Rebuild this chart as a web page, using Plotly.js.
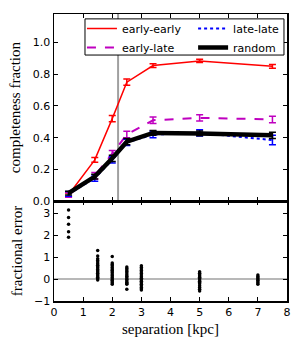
<!DOCTYPE html>
<html><head><meta charset="utf-8">
<script src="https://cdn.plot.ly/plotly-3.0.1.min.js"></script>
<style>html,body{margin:0;padding:0;background:#fff}#c{width:300px;height:350px}</style>
</head><body><div id="c"></div>
<script>
// Top panel: completeness fraction vs separation
const sepTop = [0.5, 1.4, 2.0, 2.5, 3.4, 5.0, 7.5];
const earlyEarly = [0.04, 0.26, 0.52, 0.75, 0.855, 0.884, 0.85];
const earlyEarlyErr = [0.012, 0.015, 0.02, 0.02, 0.012, 0.01, 0.012];
const earlyLate = [0.04, 0.16, 0.30, 0.42, 0.51, 0.525, 0.515];
const earlyLateErr = [0.015, 0.02, 0.02, 0.02, 0.02, 0.02, 0.02];
const lateLate = [0.045, 0.145, 0.26, 0.37, 0.42, 0.43, 0.385];
const lateLateErr = [0.015, 0.02, 0.02, 0.02, 0.02, 0.02, 0.03];
const randomSel = [0.05, 0.155, 0.27, 0.375, 0.43, 0.427, 0.415];
const randomErr = [0.012, 0.015, 0.02, 0.02, 0.015, 0.015, 0.02];
const boundary = 2.2;

// Bottom panel: fractional error per separation
const errSeps = [0.5, 1.5, 2.0, 2.5, 3.0, 5.0, 7.0];
const err05 = [3.15, 2.8, 2.5, 2.15, 1.9];
const err15 = [1.3, 1.05, 0.93, 0.85, 0.78, 0.7, 0.63, 0.56, 0.5, 0.44, 0.38, 0.32, 0.26, 0.2, 0.14, 0.08, 0.02, -0.04];
const err20 = [1.03, 0.73, 0.66, 0.6, 0.53, 0.46, 0.4, 0.33, 0.27, 0.2, 0.14, 0.07, 0.0, -0.06, -0.12, -0.18, -0.24];
const err25 = [0.55, 0.48, 0.41, 0.34, 0.27, 0.2, 0.13, 0.06, -0.01, -0.08, -0.15, -0.2, -0.24, -0.46];
const err30 = [0.6, 0.53, 0.46, 0.39, 0.32, 0.25, 0.18, 0.11, 0.04, -0.03, -0.1, -0.17, -0.24, -0.31, -0.38, -0.44, -0.5];
const err50 = [0.33, 0.26, 0.2, 0.14, 0.08, 0.02, -0.04, -0.1, -0.16, -0.22, -0.3, -0.38, -0.46, -0.55];
const err70 = [0.18, 0.12, 0.06, 0.0, -0.06, -0.12, -0.18, -0.24];
const errGroups = [err05, err15, err20, err25, err30, err50, err70];

const ex = [], ey = [];
errGroups.forEach((g, i) => g.forEach(v => { ex.push(errSeps[i]); ey.push(v); }));

function series(name, y, e, color, width, dash, legendId) {
  return {
    type: 'scatter', mode: 'lines', name: name, x: sepTop, y: y,
    xaxis: 'x2', yaxis: 'y2', legend: legendId,
    line: {color: color, width: width, dash: dash},
    error_y: {type: 'data', array: e, visible: true, color: color, thickness: 1.5, width: 3.5}
  };
}

const traces = [
  series('early-early', earlyEarly, earlyEarlyErr, '#ff0000', 1.5, 'solid', 'legend'),
  series('early-late', earlyLate, earlyLateErr, '#bf00bf', 2, 'dash', 'legend'),
  series('late-late', lateLate, lateLateErr, '#0000ff', 2, 'dot', 'legend2'),
  series('random', randomSel, randomErr, '#000000', 4.5, 'solid', 'legend2'),
  {type: 'scatter', mode: 'markers', x: ex, y: ey, xaxis: 'x', yaxis: 'y', showlegend: false,
   marker: {color: '#000', size: 3.5}}
];

const tickFont = {family: 'DejaVu Sans', size: 11, color: '#000'};
const titleFont = {family: 'Liberation Serif', size: 15, color: '#000'};
const axBase = {showgrid: false, zeroline: false, showline: true, linecolor: '#000', linewidth: 1.5,
  mirror: 'ticks', ticks: 'inside', ticklen: 4, tickcolor: '#000', tickwidth: 1, tickfont: tickFont};
const legFont = {family: 'DejaVu Sans', size: 11, color: '#000'};
const legBase = {orientation: 'v', xanchor: 'left', yanchor: 'top', y: 1.0, tracegroupgap: 0,
  bgcolor: 'rgba(0,0,0,0)', borderwidth: 0, font: legFont, itemwidth: 30};

const layout = {
  width: 300, height: 350,
  margin: {l: 54, r: 13, t: 14, b: 49},
  paper_bgcolor: '#fff', plot_bgcolor: '#fff',
  showlegend: true,
  legend: Object.assign({}, legBase, {x: 0.12}),
  legend2: Object.assign({}, legBase, {x: 0.597}),
  xaxis: Object.assign({}, axBase, {domain: [0, 1], range: [0, 8], dtick: 1, anchor: 'y',
    title: {text: 'separation [kpc]', font: titleFont, standoff: 6}}),
  yaxis: Object.assign({}, axBase, {domain: [0, 0.348], range: [-1, 3.55], tickvals: [-1, 0, 1, 2, 3], anchor: 'x',
    title: {text: 'fractional error', font: titleFont, standoff: 8}}),
  xaxis2: Object.assign({}, axBase, {domain: [0, 1], range: [0, 8], dtick: 1, anchor: 'y2', showticklabels: false, matches: 'x'}),
  yaxis2: Object.assign({}, axBase, {domain: [0.348, 1], range: [0, 1.18], tickvals: [0, 0.2, 0.4, 0.6, 0.8, 1.0],
    tickformat: '.1f', anchor: 'x2', title: {text: 'completeness fraction', font: titleFont, standoff: 8}}),
  shapes: [
    {type: 'line', xref: 'x2', yref: 'y2 domain', x0: boundary, x1: boundary, y0: 0, y1: 1,
     line: {color: '#a0a0a0', width: 2}, layer: 'below'},
    {type: 'line', xref: 'x domain', yref: 'y', x0: 0, x1: 1, y0: 0, y1: 0,
     line: {color: '#a0a0a0', width: 1.5}, layer: 'below'},
    {type: 'rect', xref: 'paper', yref: 'paper', x0: 0.133, x1: 0.987, y0: 0.857, y1: 0.983,
     line: {color: '#000', width: 1}, fillcolor: '#fff', layer: 'above'}
  ]
};

Plotly.newPlot('c', traces, layout, {displayModeBar: false, staticPlot: true});
</script></body></html>
